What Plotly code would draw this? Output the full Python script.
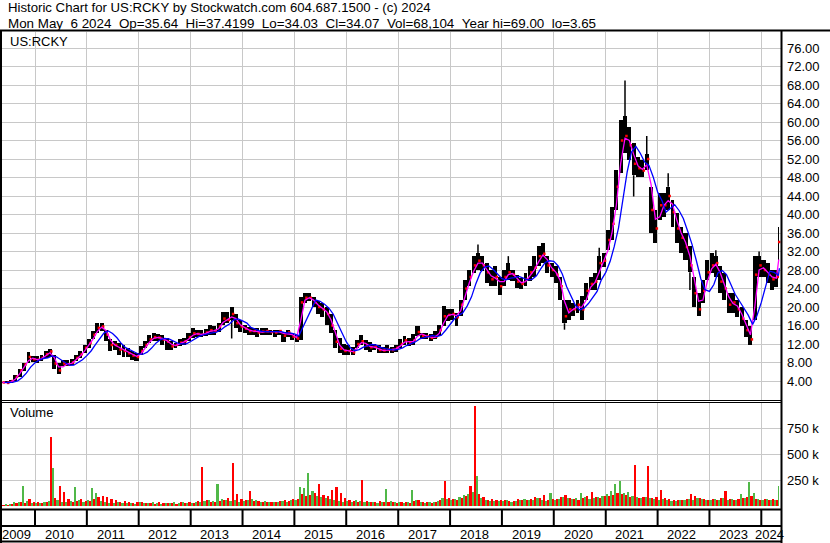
import plotly.graph_objects as go
import pandas as pd
import numpy as np

# ---------------- DATA (monthly) ----------------
first_month = "2009-05"
last_month = "2024-05"
last_date = "2024-05-06"

high_2009 = [3.9, 4.0, 4.2, 5.2, 6.6, 8.0, 10.3, 9.5]
low_2009 = [3.5, 3.5, 3.6, 4.0, 4.8, 6.2, 7.8, 8.2]
close_2009 = [3.7, 3.6, 4.0, 4.9, 6.3, 7.6, 9.2, 8.7]

high_2010 = [9.4, 9.7, 10.4, 11.0, 9.6, 7.8, 8.6, 8.5, 8.7, 9.7, 10.4, 11.9]
low_2010 = [7.9, 8.3, 9.0, 9.3, 6.5, 5.6, 7.2, 7.3, 7.5, 8.3, 9.0, 10.1]
close_2010 = [8.6, 9.0, 9.8, 10.4, 7.8, 6.3, 7.8, 7.6, 8.0, 9.0, 9.8, 11.2]

high_2011 = [13.0, 14.8, 16.6, 16.6, 15.1, 13.0, 12.6, 12.2, 11.9, 11.2, 10.4, 10.1]
low_2011 = [11.2, 13.0, 14.4, 14.8, 12.6, 10.4, 10.8, 9.7, 9.3, 9.3, 8.6, 8.3]
close_2011 = [12.2, 14.0, 15.5, 15.8, 14.0, 11.8, 11.8, 10.8, 10.5, 10.0, 9.5, 9.2]

high_2012 = [11.6, 12.6, 14.0, 14.4, 14.2, 14.0, 13.3, 12.6, 12.2, 13.0, 13.3, 14.4]
low_2012 = [9.7, 11.2, 12.2, 12.6, 12.6, 11.9, 10.8, 10.8, 11.2, 11.5, 11.9, 12.6]
close_2012 = [10.5, 11.8, 13.0, 13.5, 13.4, 13.0, 12.5, 11.5, 11.8, 12.3, 12.6, 13.5]

high_2013 = [15.4, 15.0, 15.0, 15.2, 16.1, 15.8, 16.5, 19.0, 19.0, 20.1, 18.6, 17.2]
low_2013 = [13.2, 13.6, 13.6, 13.8, 13.9, 14.0, 14.7, 16.1, 16.5, 17.2, 15.4, 14.7]
close_2013 = [14.3, 14.2, 14.0, 14.5, 15.0, 14.8, 15.8, 17.5, 17.2, 18.5, 16.5, 15.8]

high_2014 = [16.1, 15.7, 15.4, 15.4, 15.4, 15.4, 15.0, 15.0, 15.0, 14.7, 15.0, 14.3]
low_2014 = [14.3, 13.9, 13.9, 13.6, 13.9, 13.9, 13.9, 13.6, 13.9, 12.5, 13.6, 12.9]
close_2014 = [15.3, 14.8, 14.8, 14.5, 14.7, 14.8, 14.6, 14.5, 14.8, 13.8, 14.5, 13.6]

high_2015 = [14.0, 22.2, 23.0, 23.0, 22.2, 21.2, 20.8, 20.1, 18.6, 15.0, 13.2, 12.1]
low_2015 = [12.5, 12.9, 20.8, 21.2, 20.1, 18.6, 17.9, 16.1, 14.3, 11.1, 10.0, 9.6]
close_2015 = [13.2, 21.0, 22.0, 22.0, 21.0, 20.0, 19.5, 18.5, 16.0, 12.5, 11.0, 10.5]

high_2016 = [11.8, 11.4, 12.9, 13.9, 12.9, 12.5, 12.1, 11.8, 11.4, 11.8, 11.4, 11.8]
low_2016 = [9.6, 9.6, 11.1, 11.8, 10.7, 10.3, 10.7, 10.0, 10.0, 10.0, 10.0, 10.3]
close_2016 = [10.5, 10.2, 12.0, 12.6, 11.7, 11.3, 11.4, 10.7, 10.6, 10.8, 10.7, 11.2]

high_2017 = [13.0, 13.7, 13.3, 14.1, 15.9, 14.4, 14.4, 14.1, 14.8, 16.2, 20.2, 19.5]
low_2017 = [11.2, 11.9, 11.5, 11.9, 13.7, 13.0, 13.0, 12.6, 13.0, 13.7, 15.9, 16.9]
close_2017 = [12.0, 12.8, 12.2, 12.8, 14.6, 13.8, 13.7, 13.3, 13.6, 15.0, 18.0, 18.3]

high_2018 = [19.5, 18.7, 21.6, 25.9, 28.0, 31.0, 31.7, 31.0, 29.5, 28.0, 28.8, 26.6]
low_2018 = [17.3, 15.9, 18.0, 21.6, 24.5, 27.4, 28.0, 27.7, 25.2, 24.5, 24.5, 22.7]
close_2018 = [18.5, 17.8, 20.5, 24.0, 26.5, 29.0, 30.0, 29.0, 27.5, 26.0, 26.5, 24.5]

high_2019 = [28.0, 29.5, 28.0, 27.0, 26.3, 27.4, 28.8, 31.0, 33.1, 33.8, 31.0, 29.5]
low_2019 = [24.5, 25.9, 25.6, 24.1, 23.8, 24.5, 25.6, 26.6, 28.8, 29.5, 27.4, 26.6]
close_2019 = [26.5, 27.5, 27.0, 25.5, 25.0, 26.0, 27.5, 28.5, 31.0, 31.5, 29.0, 28.0]

high_2020 = [28.8, 26.6, 21.6, 21.6, 20.9, 21.6, 22.3, 25.2, 26.6, 27.3, 31.0, 31.6]
low_2020 = [25.2, 21.6, 16.5, 17.3, 18.0, 18.7, 17.3, 21.6, 23.7, 23.7, 25.9, 28.7]
close_2020 = [27.0, 24.5, 18.0, 19.5, 19.5, 20.5, 19.5, 23.5, 25.0, 25.5, 29.5, 30.0]

high_2021 = [36.6, 41.7, 49.6, 60.4, 61.2, 59.0, 55.4, 52.5, 51.8, 53.0, 46.0, 41.0]
low_2021 = [32.3, 34.5, 41.0, 48.9, 53.3, 51.8, 48.5, 48.2, 48.2, 49.6, 36.0, 33.8]
close_2021 = [34.5, 38.0, 46.0, 56.0, 57.0, 55.0, 51.0, 50.0, 49.5, 52.0, 41.0, 37.0]

high_2022 = [44.6, 44.6, 46.0, 43.2, 40.3, 37.4, 36.0, 33.1, 26.6, 23.0, 25.8, 30.2]
low_2022 = [38.8, 39.5, 41.0, 37.4, 33.8, 31.6, 30.2, 27.5, 20.1, 18.0, 20.8, 25.8]
close_2022 = [42.0, 42.0, 44.0, 40.5, 37.0, 35.0, 33.0, 29.0, 23.0, 19.5, 23.5, 27.5]

high_2023 = [31.6, 31.0, 28.8, 27.3, 23.0, 23.0, 21.5, 20.0, 17.2, 15.8, 31.0, 31.0]
low_2023 = [27.3, 26.6, 23.0, 21.5, 18.7, 18.7, 17.9, 15.8, 13.6, 11.8, 17.2, 26.6]
close_2023 = [29.0, 29.5, 25.5, 24.0, 20.5, 21.0, 19.5, 17.5, 15.0, 13.0, 27.0, 29.0]

high_2024 = [30.2, 29.5, 28.0, 28.0, 37.4]
low_2024 = [26.6, 25.1, 23.7, 24.4, 30.2]
close_2024 = [28.0, 27.0, 26.0, 26.5, 34.07]

# single-day extremes (thin wicks)
wick_months = ["2013-10", "2018-07", "2019-02", "2020-03", "2020-11", "2021-05",
               "2021-07", "2021-10", "2022-03", "2022-08", "2023-02", "2023-12"]
wick_values = [13.2, 33.5, 31.0, 15.1, 32.8, 69.0, 43.9, 57.0, 48.9, 23.7, 32.3, 32.0]

# volume (thousands): largest up-week and down-week bar in each month
vol_up_2009 = [15, 20, 25, 45, 40, 200, 50, 35]
vol_dn_2009 = [12, 10, 20, 30, 45, 35, 70, 40]
vol_up_2010 = [30, 35, 40, 50, 365, 60, 45, 40, 50, 186, 60, 45]
vol_dn_2010 = [40, 30, 45, 667, 80, 200, 140, 70, 40, 50, 70, 55]
vol_up_2011 = [60, 180, 130, 50, 40, 35, 30, 40, 30, 35, 30, 25]
vol_dn_2011 = [50, 70, 90, 95, 90, 70, 60, 45, 50, 40, 35, 40]
vol_up_2012 = [45, 35, 30, 40, 30, 25, 35, 30, 40, 30, 45, 35]
vol_dn_2012 = [40, 30, 35, 25, 40, 30, 30, 35, 25, 40, 30, 45]
vol_up_2013 = [30, 40, 45, 50, 60, 55, 215, 70, 60, 50, 60, 45]
vol_dn_2013 = [35, 50, 378, 60, 45, 40, 50, 60, 80, 417, 120, 70]
vol_up_2014 = [50, 60, 70, 60, 45, 50, 40, 45, 40, 50, 45, 60]
vol_dn_2014 = [60, 147, 50, 55, 45, 40, 45, 40, 50, 60, 55, 70]
vol_up_2015 = [60, 186, 180, 320, 150, 100, 90, 80, 70, 60, 50, 45]
vol_dn_2015 = [70, 120, 100, 110, 130, 211, 110, 100, 157, 190, 125, 80]
vol_up_2016 = [50, 45, 60, 55, 40, 45, 40, 35, 40, 167, 50, 40]
vol_dn_2016 = [60, 50, 45, 250, 50, 45, 40, 50, 45, 45, 40, 35]
vol_up_2017 = [40, 35, 40, 157, 60, 45, 35, 40, 45, 50, 80, 70]
vol_dn_2017 = [45, 40, 35, 50, 60, 40, 45, 35, 40, 60, 244, 80]
vol_up_2018 = [60, 70, 90, 110, 120, 140, 292, 80, 60, 50, 55, 50]
vol_dn_2018 = [70, 60, 80, 100, 200, 962, 120, 90, 60, 70, 60, 65]
vol_up_2019 = [50, 60, 45, 55, 60, 70, 65, 60, 80, 60, 50, 128]
vol_dn_2019 = [60, 55, 50, 70, 65, 60, 70, 90, 80, 110, 60, 70]
vol_up_2020 = [60, 70, 90, 80, 70, 80, 125, 90, 70, 80, 90, 100]
vol_dn_2020 = [70, 90, 110, 80, 70, 60, 80, 100, 135, 90, 80, 100]
vol_up_2021 = [120, 150, 210, 244, 130, 140, 100, 90, 80, 90, 80, 70]
vol_dn_2021 = [100, 110, 130, 120, 110, 90, 397, 80, 90, 388, 80, 90]
vol_up_2022 = [60, 70, 60, 55, 50, 60, 65, 70, 60, 80, 70, 60]
vol_dn_2022 = [157, 80, 70, 60, 65, 60, 70, 115, 100, 80, 70, 65]
vol_up_2023 = [60, 70, 65, 80, 60, 70, 60, 115, 80, 230, 125, 70]
vol_dn_2023 = [70, 60, 80, 147, 70, 60, 70, 80, 90, 100, 70, 60]
vol_up_2024 = [60, 70, 65, 60, 200]
vol_dn_2024 = [70, 60, 70, 65, 50]

price_ticks = [4, 8, 12, 16, 20, 24, 28, 32, 36, 40, 44, 48, 52, 56, 60, 64, 68, 72, 76]
volume_ticks = [250, 500, 750]
volume_tick_labels = ["250 k", "500 k", "750 k"]
years = list(range(2009, 2025))

NB = "\u00a0"
title_line1 = "Historic Chart for US:RCKY by Stockwatch.com 604.687.1500 - (c) 2024"
title_line2 = (f"Mon May{NB}{NB}6 2024{NB}{NB}Op=35.64{NB}{NB}Hi=37.4199{NB}{NB}Lo=34.03"
               f"{NB}{NB}Cl=34.07{NB}{NB}Vol=68,104{NB}{NB}Year hi=69.00{NB}{NB}lo=3.65")

# ---------------- assemble ----------------
yrs = range(2009, 2025)
high = sum([globals()[f"high_{y}"] for y in yrs], [])
low = sum([globals()[f"low_{y}"] for y in yrs], [])
close = sum([globals()[f"close_{y}"] for y in yrs], [])
vol_up = sum([globals()[f"vol_up_{y}"] for y in yrs], [])
vol_dn = sum([globals()[f"vol_dn_{y}"] for y in yrs], [])

periods = pd.period_range(first_month, last_month, freq="M")
starts = periods.to_timestamp(how="start")
days = np.array(periods.days_in_month, dtype=float)
centers = starts + pd.to_timedelta(days / 2, unit="D")
days[-1] = 9
centers = centers.delete(-1).append(pd.DatetimeIndex([pd.Timestamp(last_date) - pd.Timedelta(days=3)]))
DAY = 86400000.0

df = pd.DataFrame({"t": centers, "high": high, "low": low, "close": close,
                   "vu": np.array(vol_up) * 1000, "vd": np.array(vol_dn) * 1000})
ma_short = df["close"].rolling(2, min_periods=1).mean()
ma_long = df["close"].rolling(4, min_periods=1).mean()
t_close = df["t"] + pd.to_timedelta(days * 0.33, unit="D")
t_long = df["t"] + pd.to_timedelta(days * 0.5, unit="D")

wick_idx = [periods.get_loc(pd.Period(m, freq="M")) for m in wick_months]
wx, wy = [], []
for i, v in zip(wick_idx, wick_values):
    base = high[i] if v > high[i] else low[i]
    wx += [centers[i], centers[i], None]
    wy += [base, v, None]

# ---------------- layout geometry ----------------
W, H = 830, 543
def fx(x): return x / W
def fy(y): return 1 - y / H

PX_PER_DAY = 0.14205
x0_date = pd.Timestamp("2010-01-01") - pd.Timedelta(days=(35 - 2) / PX_PER_DAY)
x1_date = pd.Timestamp("2010-01-01") + pd.Timedelta(days=(781 - 35) / PX_PER_DAY)

grid = "#c8c8c8"
FAM = "Liberation Sans, Arial, sans-serif"
font = dict(family=FAM, size=13, color="black")

fig = go.Figure()

fig.add_trace(go.Bar(x=df["t"], y=df["high"] - df["low"], base=df["low"],
                     width=days * 0.92 * DAY, marker=dict(color="black", line=dict(width=0)),
                     xaxis="x", yaxis="y", showlegend=False))
fig.add_trace(go.Scatter(x=wx, y=wy, mode="lines", line=dict(color="black", width=1.5),
                         xaxis="x", yaxis="y", showlegend=False))
fig.add_trace(go.Scatter(x=t_close, y=df["close"], mode="markers",
                         marker=dict(color="red", size=2.5, symbol="square", line=dict(width=0)),
                         xaxis="x", yaxis="y", showlegend=False))
fig.add_trace(go.Scatter(x=df["t"], y=ma_short, mode="lines",
                         line=dict(color="#ff00ff", width=1.3),
                         xaxis="x", yaxis="y", showlegend=False))
fig.add_trace(go.Scatter(x=t_long, y=ma_long, mode="lines",
                         line=dict(color="#0000ff", width=1.3),
                         xaxis="x", yaxis="y", showlegend=False))

half = days * 0.5 * DAY
fig.add_trace(go.Bar(x=df["t"], y=df["vu"], width=half, offset=-half,
                     marker=dict(color="#50b848", line=dict(width=0)),
                     xaxis="x2", yaxis="y2", showlegend=False))
fig.add_trace(go.Bar(x=df["t"], y=df["vd"], width=half, offset=0,
                     marker=dict(color="#ff0000", line=dict(width=0)),
                     xaxis="x2", yaxis="y2", showlegend=False))

year_bounds = [pd.Timestamp(f"{y}-01-01") for y in years[1:]]

xcommon = dict(range=[x0_date, x1_date], tickvals=year_bounds, showticklabels=False,
               showgrid=True, gridcolor=grid, gridwidth=1, zeroline=False, ticks="",
               showline=False, domain=[fx(2), fx(781)])
fig.update_layout(
    width=W, height=H, margin=dict(l=0, r=0, t=0, b=0),
    paper_bgcolor="white", plot_bgcolor="white", barmode="overlay", bargap=0,
    font=font, showlegend=False, hovermode=False,
    xaxis=dict(anchor="y", **xcommon),
    xaxis2=dict(anchor="y2", matches="x", **xcommon),
    yaxis=dict(domain=[fy(400), fy(31.5)], range=[-0.1, 79.57], side="right",
               tickvals=price_ticks, tickformat=".2f", showgrid=True, gridcolor=grid,
               zeroline=False, ticks="", showline=False, tickfont=font,
               ticklabelstandoff=5),
    yaxis2=dict(domain=[fy(506.3), fy(402)], range=[0, 1003000], side="right",
                tickvals=[v * 1000 for v in volume_ticks], ticktext=volume_tick_labels,
                showgrid=True, gridcolor=grid, zeroline=False, ticks="", showline=False,
                tickfont=font, ticklabelstandoff=5),
)

shapes = []
def hline(y, x0=0, x1=781, w=2):
    shapes.append(dict(type="line", xref="paper", yref="paper", x0=fx(x0), x1=fx(x1),
                       y0=fy(y), y1=fy(y), line=dict(color="black", width=w)))
def vline(x, y0, y1, w=2):
    shapes.append(dict(type="line", xref="paper", yref="paper", x0=fx(x), x1=fx(x),
                       y0=fy(y0), y1=fy(y1), line=dict(color="black", width=w)))

hline(30.5, 0, 830)
hline(400.5, 0, 781, 1)
hline(402.5, 0, 781, 1)
hline(509.5)
hline(526)
hline(541.5)
vline(1, 30, 543)
vline(781.5, 30, 543)
for b in year_bounds:
    shapes.append(dict(type="line", xref="x", yref="paper", x0=b, x1=b,
                       y0=fy(526), y1=fy(509.5), line=dict(color="black", width=2)))
fig.update_layout(shapes=shapes)

ann = []
ann.append(dict(text=title_line1, x=fx(5.5), y=fy(8), xref="paper", yref="paper",
                xanchor="left", yanchor="middle", showarrow=False,
                font=dict(family=FAM, size=13.2, color="black")))
ann.append(dict(text=title_line2, x=fx(5.5), y=fy(23.5), xref="paper", yref="paper",
                xanchor="left", yanchor="middle", showarrow=False,
                font=dict(family=FAM, size=13.4, color="black")))
ann.append(dict(text="US:RCKY", x=fx(8), y=fy(41.5), xref="paper", yref="paper",
                xanchor="left", yanchor="middle", showarrow=False, font=font))
ann.append(dict(text="Volume", x=fx(8), y=fy(412), xref="paper", yref="paper",
                xanchor="left", yanchor="middle", showarrow=False, font=font))
for y in years:
    a = max(pd.Timestamp(f"{y}-01-01"), x0_date)
    b = min(pd.Timestamp(f"{y + 1}-01-01"), x1_date)
    mid = a + (b - a) / 2 - pd.Timedelta(days=12)
    ann.append(dict(text=str(y), x=mid, y=fy(534.5), xref="x", yref="paper",
                    xanchor="center", yanchor="middle", showarrow=False, font=font))
fig.update_layout(annotations=ann)

fig.write_html("out.html", post_script="document.body.style.margin='0px';",
               config={"displayModeBar": False, "staticPlot": True})
